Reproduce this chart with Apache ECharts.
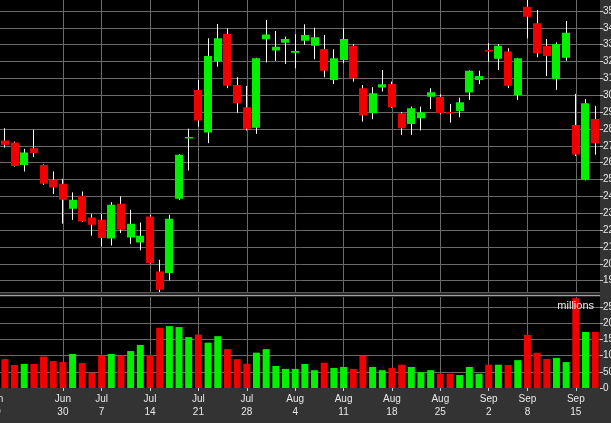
<!DOCTYPE html>
<html><head><meta charset="utf-8">
<script src="https://cdn.jsdelivr.net/npm/echarts@6/dist/echarts.min.js"></script>
<style>html,body{margin:0;padding:0;background:#333;} #c{width:611px;height:423px;}</style>
</head><body><div id="c"></div>
<script>
// Trading days (first category is an empty leading slot, partly off-screen)
const dates = ['6/19','6/20','6/23','6/24','6/25','6/26','6/27','6/30','7/1','7/2','7/3',
 '7/7','7/8','7/9','7/10','7/11','7/14','7/15','7/16','7/17','7/18','7/21','7/22','7/23','7/24','7/25',
 '7/28','7/29','7/30','7/31','8/1','8/4','8/5','8/6','8/7','8/8','8/11','8/12','8/13','8/14','8/15',
 '8/18','8/19','8/20','8/21','8/22','8/25','8/26','8/27','8/28','8/29','9/2','9/3','9/4','9/5',
 '9/8','9/9','9/10','9/11','9/12','9/15','9/16','9/17'];

// Weekly tick labels
const tickLabels = {'6/19':'Jun\n19','6/30':'Jun\n30','7/7':'Jul\n7','7/14':'Jul\n14','7/21':'Jul\n21','7/28':'Jul\n28',
 '8/4':'Aug\n4','8/11':'Aug\n11','8/18':'Aug\n18','8/25':'Aug\n25','9/2':'Sep\n2','9/8':'Sep\n8','9/15':'Sep\n15'};

// OHLC values for 6/20 .. 9/17
const opens  = [27.31,27.20,25.87,26.86,25.87,24.99,24.75,23.27,24.04,22.75,22.61,21.51,23.56,21.57,21.27,22.81,19.55,19.46,23.86,27.45,
 30.32,27.79,32.00,33.64,30.61,29.29,28.08,33.32,32.65,33.12,32.53,33.24,32.94,32.75,30.91,32.10,32.94,30.42,28.94,30.46,
 30.67,28.94,28.29,28.64,29.92,29.92,29.00,29.07,30.16,30.91,32.69,32.16,32.59,30.02,35.25,34.27,32.93,30.95,32.23,28.24,24.99,28.60];
const highs  = [28.05,27.25,26.82,27.95,25.90,25.48,25.04,24.24,24.29,22.95,22.95,23.66,24.00,23.21,22.45,22.91,20.24,22.91,26.50,28.02,
 30.91,33.38,34.23,33.97,31.07,30.56,32.22,34.47,33.81,33.48,33.62,34.21,34.01,33.58,32.73,33.97,33.02,30.61,30.48,31.50,
 30.81,29.00,29.33,29.33,30.42,30.06,29.49,29.86,31.48,31.46,33.09,33.04,32.79,32.22,35.70,35.06,33.34,33.14,34.41,30.08,29.77,29.37];
const lows   = [26.90,25.77,25.48,26.33,24.69,24.14,22.38,22.61,22.48,21.67,21.03,21.09,21.83,21.19,20.80,20.02,18.33,19.02,23.80,25.54,
 28.14,27.16,31.70,30.42,28.97,27.91,27.71,31.94,32.04,31.86,31.60,32.99,32.14,31.07,30.66,31.90,30.81,28.44,28.58,30.22,
 29.25,27.65,27.65,27.91,29.19,28.88,28.38,28.70,29.73,30.66,32.00,31.50,30.42,29.73,33.38,32.26,31.15,30.32,32.05,26.40,24.95,26.47];
const closes = [27.06,25.81,26.60,26.57,24.75,24.53,23.80,23.80,22.51,22.32,21.53,23.50,22.02,22.38,21.67,20.05,18.47,22.67,26.47,27.50,
 28.50,32.33,33.38,30.57,29.53,28.01,32.20,33.60,32.88,33.34,32.63,33.58,33.44,31.46,32.20,33.34,31.01,28.80,30.12,30.66,
 29.29,28.05,29.23,29.00,30.18,28.94,28.94,29.59,31.46,31.15,32.59,32.94,30.56,32.20,34.66,32.49,32.33,33.04,33.71,26.48,29.53,27.16];
// Volume (axis units as labelled)
const volumes = [89,71,74,74,97,83,80,105,77,47,99,105,99,114,133,102,186,191,188,157,
 165,140,160,120,89,75,109,120,68,59,59,74,55,78,62,65,59,99,65,55,
 62,72,65,49,55,44,44,40,65,44,72,72,71,86,164,109,90,93,80,277,173,173];

const UP = '#00f000', DOWN = '#f00000';
const FONT = 'Arial, "Liberation Sans", sans-serif';
const GRIDC = '#6a6a6a';

const candleData = opens.map((o, i) => [i + 1, o, closes[i], lows[i], highs[i]]);
const volData = [{value: '-'}].concat(volumes.map((v, i) => ({
  value: v, itemStyle: {color: closes[i] >= opens[i] ? UP : DOWN}
})));

function renderCandle(params, api) {
  const xi = api.value(0);
  const o = api.value(1), c = api.value(2), l = api.value(3), h = api.value(4);
  const pO = api.coord([xi, o]), pC = api.coord([xi, c]);
  const pL = api.coord([xi, l]), pH = api.coord([xi, h]);
  const bw = Math.round(api.size([1, 0])[0] * 0.84);
  const cx = pO[0];
  const wx = Math.floor(cx) + 0.5;
  let top = Math.min(pO[1], pC[1]);
  let hgt = Math.abs(pO[1] - pC[1]);
  if (hgt < 1.5) { top -= (1.5 - hgt) / 2; hgt = 1.5; }
  const color = c >= o ? UP : DOWN;
  return {type: 'group', children: [
    {type: 'line', shape: {x1: wx, y1: pH[1], x2: wx, y2: pL[1]}, style: {stroke: '#ffffff', lineWidth: 1}},
    {type: 'rect', shape: {x: Math.round(cx - bw / 2), y: top, width: bw, height: hgt}, style: {fill: color}}
  ]};
}

const isTick = (idx, val) => Object.prototype.hasOwnProperty.call(tickLabels, val);

const chart = echarts.init(document.getElementById('c'), null, {renderer: 'canvas'});
chart.setOption({
  animation: false,
  backgroundColor: '#333333',
  grid: [
    {left: -9.677, right: 11, top: -5.86, bottom: 125.44, show: true, backgroundColor: '#000', borderWidth: 0,
     containLabel: false, outerBoundsMode: 'none'},
    {left: -9.677, right: 11, top: 290.8, bottom: 35, show: true, backgroundColor: '#000', borderWidth: 0,
     containLabel: false, outerBoundsMode: 'none'}
  ],
  xAxis: [
    {type: 'category', gridIndex: 0, data: dates, boundaryGap: true,
     axisLine: {show: false}, axisTick: {show: false}, axisLabel: {show: false},
     splitLine: {show: true, interval: isTick, alignWithLabel: true, lineStyle: {color: GRIDC, width: 1}}},
    {type: 'category', gridIndex: 1, data: dates, boundaryGap: true,
     axisLine: {show: false},
     axisTick: {show: true, interval: isTick, alignWithLabel: true, length: 3, lineStyle: {color: '#cccccc'}},
     axisLabel: {show: true, interval: isTick, formatter: v => tickLabels[v] || '', color: '#e8e8e8',
                 fontSize: 10, fontFamily: FONT, lineHeight: 13.5, margin: 4, hideOverlap: false},
     splitLine: {show: true, interval: isTick, alignWithLabel: true, lineStyle: {color: GRIDC, width: 1}}}
  ],
  yAxis: [
    {type: 'value', gridIndex: 0, position: 'right', min: 18, max: 36, interval: 1,
     axisLine: {show: false},
     axisTick: {show: true, length: 3, lineStyle: {color: '#cccccc'}},
     axisLabel: {color: '#e8e8e8', fontSize: 10, fontFamily: FONT, margin: 3, showMinLabel: false, showMaxLabel: false},
     splitLine: {show: true, showMinLine: false, showMaxLine: false, lineStyle: {color: GRIDC, width: 1}}},
    {type: 'value', gridIndex: 1, position: 'right', min: 0, max: 300, interval: 50,
     axisLine: {show: false},
     axisTick: {show: true, length: 3, lineStyle: {color: '#cccccc'}},
     axisLabel: {color: '#e8e8e8', fontSize: 10, fontFamily: FONT, margin: 3, showMaxLabel: false},
     splitLine: {show: true, showMinLine: false, showMaxLine: false, lineStyle: {color: GRIDC, width: 1}}}
  ],
  series: [
    {type: 'custom', xAxisIndex: 0, yAxisIndex: 0, renderItem: renderCandle, clip: true,
     encode: {x: 0, y: [1, 2, 3, 4]}, data: candleData, z: 5},
    {type: 'bar', xAxisIndex: 1, yAxisIndex: 1, data: volData, barWidth: 7, z: 5}
  ],
  graphic: [
    {type: 'rect', z: 100, shape: {x: 0, y: 292, width: 600, height: 5}, style: {fill: '#2a2a2a'}},
    {type: 'line', z: 101, shape: {x1: 0, y1: 292.5, x2: 600, y2: 292.5}, style: {stroke: '#5a5a5a', lineWidth: 1}},
    {type: 'line', z: 101, shape: {x1: 0, y1: 295.5, x2: 600, y2: 295.5}, style: {stroke: '#a0a0a0', lineWidth: 1}},
    {type: 'text', z: 102, style: {text: 'millions', x: 594, y: 306, align: 'right', verticalAlign: 'middle',
      fill: '#eeeeee', font: '11px ' + FONT}}
  ]
});
</script>
</body></html>
